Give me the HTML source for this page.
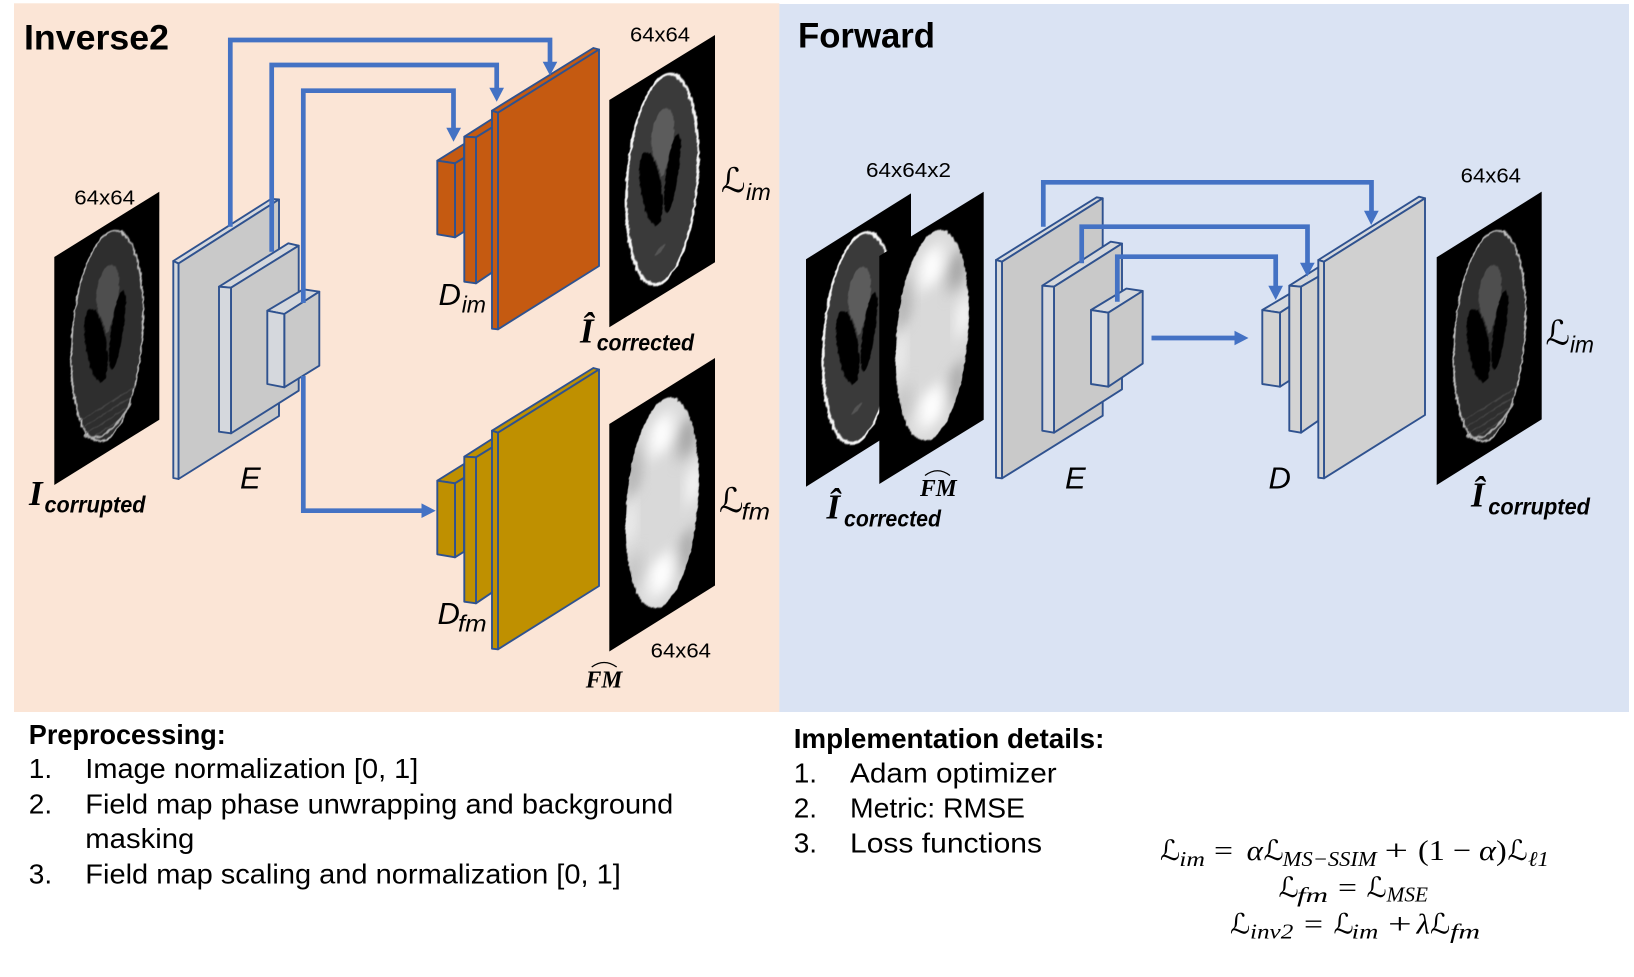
<!DOCTYPE html>
<html><head><meta charset="utf-8"><style>
html,body{margin:0;padding:0;background:#fff}
svg{display:block}
text{fill:#000;font-family:"Liberation Sans",sans-serif}
.b{font-weight:bold}
.lab{font-size:20.5px}
.t{font-size:28px}
.sub{font-style:italic;font-size:23px}
.bsub{font-style:italic;font-weight:bold;font-size:23px}
.hat{font-family:"Liberation Serif",serif;font-style:italic;font-weight:bold;font-size:35px}
.fm{font-family:"Liberation Serif",serif;font-style:italic;font-weight:bold;font-size:24px}
.it{font-style:italic;font-size:31px}
.L{font-family:"DejaVu Serif","DejaVu Sans",serif;font-style:italic;font-size:34px}
.m{font-family:"Liberation Serif",serif;font-size:29px}
.mi{font-family:"Liberation Serif",serif;font-style:italic;font-size:29px}
.ms{font-family:"Liberation Serif",serif;font-style:italic;font-size:21px}
.mL{font-family:"DejaVu Serif","DejaVu Sans",serif;font-style:italic;font-size:28px}
.pl polygon{stroke:#2F528F;stroke-width:1.9;stroke-linejoin:round}
.ln{fill:none;stroke:#4472C4;stroke-width:4.7;stroke-linejoin:miter}
.ar{fill:#4472C4;stroke:none}
</style></head><body>
<svg xmlns="http://www.w3.org/2000/svg" width="1634" height="977" viewBox="0 0 1634 977">
<defs>
<filter id="jag" x="-15%" y="-15%" width="130%" height="130%" color-interpolation-filters="sRGB">
 <feTurbulence type="fractalNoise" baseFrequency="0.2" numOctaves="2" seed="3" result="n"/>
 <feDisplacementMap in="SourceGraphic" in2="n" scale="3" xChannelSelector="R" yChannelSelector="G"/>
 <feGaussianBlur stdDeviation="0.55"/>
</filter>
<filter id="bl5" x="-60%" y="-60%" width="220%" height="220%" color-interpolation-filters="sRGB"><feGaussianBlur stdDeviation="7"/></filter>
<clipPath id="head"><ellipse cx="53" cy="112" rx="36.5" ry="103"/></clipPath>

<g id="clean" filter="url(#jag)">
 <ellipse cx="53" cy="112" rx="36" ry="103" fill="#3a3a3a" stroke="#f6f6f6" stroke-width="2.5"/>
 <ellipse cx="41.7" cy="114" rx="9.5" ry="41" fill="#000" transform="rotate(-10 41.7 114)"/>
 <ellipse cx="63" cy="112" rx="6.5" ry="37" fill="#000" transform="rotate(8 63 112)"/>
 <polygon points="43,76 64,76 55,108 52,108" fill="#5c5c5c"/>
 <ellipse cx="53.5" cy="68" rx="11.5" ry="26" fill="#5c5c5c"/>
 <ellipse cx="51" cy="181" rx="6" ry="2.5" fill="#555" transform="rotate(-25 51 181)"/>
</g>
<g id="dirty" filter="url(#jag)">
 <ellipse cx="53" cy="112" rx="36" ry="103" fill="#2e2e2e" stroke="#c0c0c0" stroke-width="1.6"/>
 <g clip-path="url(#head)" stroke="#484848" stroke-width="1.2" fill="none">
  <path d="M16,180 L90,180 M16,188 L90,188 M16,196 L90,196 M16,204 L90,204"/>
 </g>
 <path d="M30,196 Q50,222 76,194" fill="none" stroke="#a8a8a8" stroke-width="2.2"/>
 <ellipse cx="41.7" cy="114" rx="9.5" ry="41" fill="#000" transform="rotate(-10 41.7 114)"/>
 <ellipse cx="63" cy="112" rx="6.5" ry="37" fill="#000" transform="rotate(8 63 112)"/>
 <polygon points="43,76 64,76 55,108 52,108" fill="#4e4e4e"/>
 <ellipse cx="53.5" cy="68" rx="11.5" ry="26" fill="#4e4e4e"/>
</g>
<g id="fmap">
 <g filter="url(#jag)"><ellipse cx="53" cy="112" rx="36.5" ry="103" fill="#d9d9d9"/></g>
 <g clip-path="url(#head)">
  <ellipse cx="78" cy="62" rx="9" ry="20" fill="#a2a2a2" filter="url(#bl5)"/>
  <ellipse cx="24" cy="62" rx="8" ry="26" fill="#b0b0b0" filter="url(#bl5)"/>
  <ellipse cx="78" cy="175" rx="9" ry="22" fill="#a8a8a8" filter="url(#bl5)"/>
  <ellipse cx="24" cy="165" rx="7" ry="20" fill="#c0c0c0" filter="url(#bl5)"/>
  <ellipse cx="52" cy="43" rx="12" ry="20" fill="#ffffff" filter="url(#bl5)"/>
  <ellipse cx="52" cy="183" rx="13" ry="20" fill="#ffffff" filter="url(#bl5)"/>
  <ellipse cx="84" cy="112" rx="6" ry="20" fill="#ffffff" filter="url(#bl5)"/>
  <ellipse cx="20" cy="112" rx="5" ry="22" fill="#f4f4f4" filter="url(#bl5)"/>
 </g>
</g>
<g id="dec" class="pl">
 <polygon points="437.3,160.7 464,144 464,157.8 455,163.3"/>
 <polygon points="455,163.3 464,157.8 464,231.7 455,237.3"/>
 <polygon points="437.3,160.7 455,163.3 455,237.3 437.3,234.3"/>
 <polygon points="464.3,136.7 492,119 492.3,127.3 476,137.3"/>
 <polygon points="476,137.3 492.3,127.3 492.3,272.3 476,283.3"/>
 <polygon points="464.3,136.7 476,137.3 476,283.3 464.3,281.7"/>
 <polygon points="492,110.7 593.3,48 599,49.5 498,112.7"/>
 <polygon points="498,112.7 599,49.5 599,266 498,329.3"/>
 <polygon points="492,110.7 498,112.7 498,329.3 492,328.7"/>
</g>
</defs>

<rect x="14" y="3.3" width="765.4" height="708.7" fill="#FBE5D6"/>
<rect x="779.3" y="4" width="849.7" height="708" fill="#DAE3F3"/>

<text x="24" y="49.5" class="b" font-size="35.5" textLength="145" lengthAdjust="spacingAndGlyphs">Inverse2</text>
<text x="798" y="47.5" class="b" font-size="35.5" textLength="137" lengthAdjust="spacingAndGlyphs">Forward</text>

<!-- Images -->
<g transform="matrix(1,-0.622,0,1,54.3,257)"><rect width="105" height="228" fill="#000"/><use href="#dirty"/></g>
<g transform="matrix(1,-0.615,0,1,609.3,100)"><rect width="105.7" height="227.3" fill="#000"/><use href="#clean"/></g>
<g transform="matrix(1,-0.624,0,1,609.3,424)"><rect width="105.7" height="227.5" fill="#000"/><use href="#fmap"/></g>
<g transform="matrix(1,-0.628,0,1,806,259.3)"><rect width="105" height="227.4" fill="#000"/><use href="#clean"/></g>
<g transform="matrix(1,-0.616,0,1,879.3,256)"><rect width="104.4" height="228" fill="#000"/><use href="#fmap"/></g>
<g transform="matrix(1,-0.625,0,1,1436.7,257.3)"><rect width="105" height="227.7" fill="#000"/><use href="#dirty"/></g>

<!-- Inverse encoder -->
<g class="pl">
 <polygon points="173.3,261 271,199 279,199.5 178.5,263.5" fill="#D5D8DD"/>
 <polygon points="178.5,263.5 279,199.5 279,416 178.5,479" fill="#C9C9C9"/>
 <polygon points="173.3,261 178.5,263.5 178.5,479 173.3,478" fill="#D5D8DD"/>
 <polygon points="219,286.7 288.3,243.3 298.7,245.7 231,287.7" fill="#D5D8DD"/>
 <polygon points="231,287.7 298.7,245.7 298.7,390.7 231,433.3" fill="#C9C9C9"/>
 <polygon points="219,286.7 231,287.7 231,433.3 219,431.7" fill="#D5D8DD"/>
 <polygon points="267.3,310.7 303.3,289.3 319.3,291.7 284.3,314" fill="#D5D8DD"/>
 <polygon points="284.3,314 319.3,291.7 319.3,365.7 284.3,387.3" fill="#C9C9C9"/>
 <polygon points="267.3,310.7 284.3,314 284.3,387.3 267.3,384" fill="#D5D8DD"/>
</g>

<!-- Decoders -->
<use href="#dec" fill="#C55A11"/>
<use href="#dec" fill="#BF9000" transform="translate(0,320)"/>

<!-- Forward encoder / decoder -->
<g class="pl">
 <polygon points="996,260 1096.7,197.3 1102.7,198.3 1002,261.7" fill="#D5D8DD"/>
 <polygon points="1002,261.7 1102.7,198.3 1102.7,415.7 1002,478.3" fill="#C9C9C9"/>
 <polygon points="996,260 1002,261.7 1002,478.3 996,477.7" fill="#D5D8DD"/>
 <polygon points="1042.3,285.7 1110.7,241.7 1122,243.6 1054,286.7" fill="#D5D8DD"/>
 <polygon points="1054,286.7 1122,243.6 1122,389.3 1054,432.7" fill="#C9C9C9"/>
 <polygon points="1042.3,285.7 1054,286.7 1054,432.7 1042.3,430.7" fill="#D5D8DD"/>
 <polygon points="1091,310 1126.4,288.6 1142.7,291 1108.3,312.7" fill="#D5D8DD"/>
 <polygon points="1108.3,312.7 1142.7,291 1142.7,363.6 1108.3,386.7" fill="#C9C9C9"/>
 <polygon points="1091,310 1108.3,312.7 1108.3,386.7 1091,384" fill="#D5D8DD"/>

 <polygon points="1262.3,310 1289.3,294 1289.3,306.7 1280,312.7" fill="#D5D8DD"/>
 <polygon points="1280,312.7 1289.3,306.7 1289.3,380.7 1280,386.7" fill="#D0D0D0"/>
 <polygon points="1262.3,310 1280,312.7 1280,386.7 1262.3,384" fill="#D3D3D3"/>
 <polygon points="1289.3,285.7 1318.3,267.3 1318.3,276.7 1301,286.7" fill="#D5D8DD"/>
 <polygon points="1301,286.7 1318.3,276.7 1318.3,420.7 1301,432.7" fill="#D0D0D0"/>
 <polygon points="1289.3,285.7 1301,286.7 1301,432.7 1289.3,430.7" fill="#D3D3D3"/>
 <polygon points="1318.3,260 1419,196.7 1425,198.3 1324,261.7" fill="#D5D8DD"/>
 <polygon points="1324,261.7 1425,198.3 1425,415 1324,478.3" fill="#D0D0D0"/>
 <polygon points="1318.3,260 1324,261.7 1324,478.3 1318.3,477.7" fill="#D3D3D3"/>
</g>

<!-- Connectors -->
<polyline class="ln" points="230.3,226.7 230.3,40 550,40 550,63"/>
<polygon class="ar" points="542.7,61.7 557.3,61.7 550,75.5"/>
<polyline class="ln" points="271.7,251.7 271.7,65 496.7,65 496.7,89"/>
<polygon class="ar" points="489.3,87.7 504,87.7 496.7,101.7"/>
<polyline class="ln" points="303.3,303 303.3,90.7 453.5,90.7 453.5,129"/>
<polygon class="ar" points="446.3,127.7 461,127.7 453.5,141.7"/>
<polyline class="ln" points="303.3,376 303.3,510.7 423,510.7"/>
<polygon class="ar" points="421.5,503.4 435.7,510.7 421.5,518"/>

<polyline class="ln" points="1043.3,226.7 1043.3,182.3 1371.5,182.3 1371.5,212"/>
<polygon class="ar" points="1364,210.7 1378.7,210.7 1371.2,225"/>
<polyline class="ln" points="1081.7,263.3 1081.7,226.7 1307.5,226.7 1307.5,264"/>
<polygon class="ar" points="1300,262.7 1314.7,262.7 1307.2,276.5"/>
<polyline class="ln" points="1117.3,301.7 1117.3,256.7 1275.7,256.7 1275.7,287"/>
<polygon class="ar" points="1268.3,285.7 1283,285.7 1275.7,300"/>
<polyline class="ln" points="1151.5,338 1236,338"/>
<polygon class="ar" points="1234.5,330.7 1248.5,338 1234.5,345.3"/>

<!-- Size labels -->
<text x="74.3" y="204.3" class="lab" textLength="60.7" lengthAdjust="spacingAndGlyphs">64x64</text>
<text x="630" y="41.7" class="lab" textLength="60" lengthAdjust="spacingAndGlyphs">64x64</text>
<text x="650.7" y="657.3" class="lab" textLength="60.3" lengthAdjust="spacingAndGlyphs">64x64</text>
<text x="866" y="176.8" class="lab" textLength="85" lengthAdjust="spacingAndGlyphs">64x64x2</text>
<text x="1460.7" y="182.7" class="lab" textLength="60.3" lengthAdjust="spacingAndGlyphs">64x64</text>

<!-- Inverse symbols -->
<text x="29" y="505" class="hat">I</text>
<text x="44.5" y="512.3" class="bsub" textLength="101" lengthAdjust="spacingAndGlyphs">corrupted</text>
<text x="240" y="488.3" class="it">E</text>
<text x="438.5" y="305" class="it">D</text>
<text x="461.7" y="312.7" class="sub" textLength="24.3" lengthAdjust="spacingAndGlyphs">im</text>
<text x="437.5" y="624" class="it">D</text>
<text x="458" y="631.7" class="sub" textLength="28.7" lengthAdjust="spacingAndGlyphs">fm</text>
<text x="721" y="192" class="L">ℒ</text>
<text x="746" y="200" class="sub" textLength="24.7" lengthAdjust="spacingAndGlyphs">im</text>
<text x="719" y="512" class="L">ℒ</text>
<text x="741.7" y="519.3" class="sub" textLength="28.3" lengthAdjust="spacingAndGlyphs">fm</text>
<text x="580" y="342.7" class="hat">Î</text>
<text x="596.7" y="350.7" class="bsub" textLength="97.3" lengthAdjust="spacingAndGlyphs">corrected</text>
<text x="585.7" y="687.3" class="fm" textLength="36.6" lengthAdjust="spacingAndGlyphs">FM</text>
<path d="M591.7,667 Q604,658 616.7,667" fill="none" stroke="#000" stroke-width="1.3"/>

<!-- Forward symbols -->
<text x="826.5" y="518.3" class="hat">Î</text>
<text x="844" y="526.7" class="bsub" textLength="97" lengthAdjust="spacingAndGlyphs">corrected</text>
<text x="920" y="496" class="fm" textLength="36.7" lengthAdjust="spacingAndGlyphs">FM</text>
<path d="M925,475.5 Q937.5,466 950,475.5" fill="none" stroke="#000" stroke-width="1.3"/>
<text x="1065" y="488.3" class="it">E</text>
<text x="1268.5" y="488.3" class="it">D</text>
<text x="1545.5" y="344.5" class="L">ℒ</text>
<text x="1570" y="352.3" class="sub" textLength="24" lengthAdjust="spacingAndGlyphs">im</text>
<text x="1471" y="506.7" class="hat">Î</text>
<text x="1488.3" y="514.3" class="bsub" textLength="101.7" lengthAdjust="spacingAndGlyphs">corrupted</text>

<!-- Lists -->
<text x="28.8" y="744" class="t b" textLength="197" lengthAdjust="spacingAndGlyphs">Preprocessing:</text>
<text x="28.8" y="778" class="t">1.</text><text x="85.3" y="778" class="t" textLength="333" lengthAdjust="spacingAndGlyphs">Image normalization [0, 1]</text>
<text x="28.8" y="813.5" class="t">2.</text><text x="85.3" y="813.5" class="t" textLength="588" lengthAdjust="spacingAndGlyphs">Field map phase unwrapping and background</text>
<text x="85.3" y="848" class="t" textLength="109" lengthAdjust="spacingAndGlyphs">masking</text>
<text x="28.8" y="883.5" class="t">3.</text><text x="85.3" y="883.5" class="t" textLength="535.5" lengthAdjust="spacingAndGlyphs">Field map scaling and normalization [0, 1]</text>

<text x="793.7" y="748" class="t b" textLength="310.7" lengthAdjust="spacingAndGlyphs">Implementation details:</text>
<text x="793.7" y="782.5" class="t">1.</text><text x="850" y="782.5" class="t" textLength="206.7" lengthAdjust="spacingAndGlyphs">Adam optimizer</text>
<text x="793.7" y="817.5" class="t">2.</text><text x="850" y="817.5" class="t" textLength="175" lengthAdjust="spacingAndGlyphs">Metric: RMSE</text>
<text x="793.7" y="852.5" class="t">3.</text><text x="850" y="852.5" class="t" textLength="192" lengthAdjust="spacingAndGlyphs">Loss functions</text>

<!-- Formulas -->
<text x="1160" y="860" class="mL">ℒ</text><text x="1179.3" y="866" class="ms" textLength="25.7" lengthAdjust="spacingAndGlyphs">im</text>
<text x="1214" y="860" class="m" textLength="19" lengthAdjust="spacingAndGlyphs">=</text><text x="1246.7" y="860" class="mi" textLength="16.3" lengthAdjust="spacingAndGlyphs">α</text>
<text x="1263.5" y="860" class="mL">ℒ</text><text x="1282.7" y="866" class="ms" textLength="94" lengthAdjust="spacingAndGlyphs">MS−SSIM</text>
<text x="1384.5" y="860" class="m" textLength="23.5" lengthAdjust="spacingAndGlyphs">+</text><text x="1418" y="860" class="m" textLength="88.7" lengthAdjust="spacingAndGlyphs">(1 − <tspan font-style="italic">α</tspan>)</text>
<text x="1507.5" y="860" class="mL">ℒ</text><text x="1528" y="866" class="ms" textLength="21" lengthAdjust="spacingAndGlyphs">ℓ1</text>

<text x="1278.5" y="897" class="mL">ℒ</text><text x="1297" y="902" class="ms" textLength="31" lengthAdjust="spacingAndGlyphs">fm</text>
<text x="1338" y="897" class="m" textLength="19" lengthAdjust="spacingAndGlyphs">=</text>
<text x="1366.5" y="897" class="mL">ℒ</text><text x="1386.7" y="901.5" class="ms" textLength="41.3" lengthAdjust="spacingAndGlyphs">MSE</text>

<text x="1230" y="933.5" class="mL">ℒ</text><text x="1250" y="938.5" class="ms" textLength="43.3" lengthAdjust="spacingAndGlyphs">inv2</text>
<text x="1304" y="933.5" class="m" textLength="19" lengthAdjust="spacingAndGlyphs">=</text>
<text x="1333.5" y="933.5" class="mL">ℒ</text><text x="1351.7" y="938.5" class="ms" textLength="26.6" lengthAdjust="spacingAndGlyphs">im</text>
<text x="1388" y="933.5" class="m" textLength="23.7" lengthAdjust="spacingAndGlyphs">+</text><text x="1416.7" y="933.5" class="mi" textLength="13.3" lengthAdjust="spacingAndGlyphs">λ</text>
<text x="1430" y="933.5" class="mL">ℒ</text><text x="1450" y="938.5" class="ms" textLength="30" lengthAdjust="spacingAndGlyphs">fm</text>
</svg>
</body></html>
